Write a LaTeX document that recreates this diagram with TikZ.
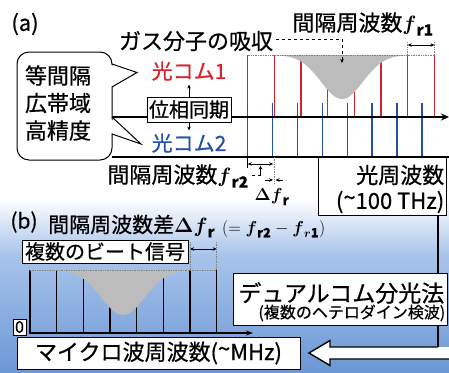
\documentclass[tikz,border=0pt]{standalone}
\usepackage{amsmath}
\usepackage{fontspec}
\setmainfont{Noto Sans CJK JP}[FakeBold=0.6]
\usetikzlibrary{arrows.meta}
\definecolor{combred}{RGB}{215,35,45}
\definecolor{combblue}{RGB}{35,80,170}
\definecolor{absgray}{RGB}{188,188,188}
\definecolor{bgmid}{RGB}{168,196,235}
\definecolor{bgbot}{RGB}{108,152,214}
\tikzset{
  txt/.style={inner sep=0pt, font=\fontsize{#1}{#1}\selectfont},
  boxed/.style={draw, fill=white, line width=0.9pt, inner sep=0pt},
  comba/.style={combred, line width=1.5pt},
  combb/.style={combblue, line width=1.5pt},
  beatline/.style={black, line width=1.3pt},
  axisline/.style={black, line width=1.8pt},
  guide/.style={gray, densely dotted, line width=0.7pt},
  dimarrow/.style={{Stealth[length=4pt,width=3.5pt]}-{Stealth[length=4pt,width=3.5pt]}, line width=0.8pt},
  tiparrow/.style={-{Stealth[length=4pt,width=3.5pt]}, line width=0.8pt}
}
\begin{document}
\begin{tikzpicture}[x=1pt,y=-1pt]
\useasboundingbox (0,0) rectangle (449,372);
\fill[white] (0,0) rectangle (449,372);
\shade[top color=white, bottom color=bgmid] (0,198) rectangle (449,255);
\shade[top color=bgmid, bottom color=bgbot] (0,254.5) rectangle (449,372);

% ---------- (a) ----------
\node[txt=22] (la) at (25,24) {(a)};
\foreach \i in {0,...,7}
  \draw[comba] ({247.7+26.67*\i},117) -- ({247.7+26.67*\i},55);
\fill[absgray] plot[domain=247.7:434.4, samples=120] (\x,{55+44*exp(-0.5*pow((\x-342)/21,2))}) -- cycle;
\draw[guide] (247.7,55) -- (434.4,55);
\foreach \i in {0,...,7}
  \draw[combb] ({247.7+24.9*\i},103) -- ({247.7+24.9*\i},157);
\draw[axisline] (112,157) -- (449,157);
\draw[axisline, -{Stealth[length=8pt,width=7pt]}] (112,117) -- (449,117);

\node[txt=22] (gas) at (196,41) {ガス分子の吸収};
\coordinate (dip) at (342,63);
\draw[dashed, tiparrow] ([xshift=3pt,yshift=2pt]gas.east) -| (dip);

\node[txt=22] (fr1) at (363,24) {間隔周波数$\boldsymbol{f}_{\mathbf{r1}}$};
\draw[guide] (407.7,42) -- (407.7,55);
\draw[guide] (434.4,42) -- (434.4,55);
\draw[dimarrow] (407.7,45) -- (434.4,45);

% bubble
\draw[fill=white, line width=1pt, rounded corners=12pt] (17,52) rectangle (112,160);
\fill[white] (111,65) -- (137,72.5) -- (111,86.5) -- cycle;
\draw[line width=1pt] (112,64) -- (137,72.5) -- (112,87);
\fill[white] (111,119) -- (141,144) -- (111,133) -- cycle;
\draw[line width=1pt] (112,117) -- (141,144) -- (112,134);
\node[align=center, inner sep=0pt, font=\fontsize{22}{27.5}\selectfont] (bub) at (58,103) {等間隔\\広帯域\\高精度};

\node[txt=21, text=combred] (c1) at (189,71) {光コム1};
\node[txt=21, text=combblue] (c2) at (189,143) {光コム2};
\node[boxed, txt=20, minimum width=84pt, minimum height=25pt] (sync) at (189,109.5) {位相同期};
\draw[tiparrow] (sync.north) -- ++(0,-12);
\draw[tiparrow] (sync.south) -- ++(0,8);

% f_r2 and delta f_r
\node[txt=22] (fr2) at (178,176) {間隔周波数$\boldsymbol{f}_{\mathbf{r2}}$};
\draw[black, line width=0.8pt] (247.7,157) -- (247.7,168);
\draw[guide] (274.4,157) -- (274.4,184);
\draw[dimarrow] (247.7,164) -- (273.3,164);
\coordinate (fr2tip) at (260.5,165.5);
\draw[dashed, line width=0.6pt] (252,175) -- (260.5,175);
\draw[tiparrow] (260.5,175) -- (fr2tip);
\coordinate (dgapl) at (273,180);
\coordinate (dgapr) at (275.5,180);
\draw[tiparrow] (265,180) -- (dgapl);
\draw[tiparrow] (283,180) -- (dgapr);
\node[txt=19] (dfr) at (272,197) {$\boldsymbol{\Delta f}_{\mathbf{r}}$};

% optical frequency box
\node[boxed, minimum width=128pt, minimum height=58pt] (optbox) at (382,186) {};
\node[txt=22, anchor=east] (opt1) at ([xshift=-2pt,yshift=11pt]optbox.east) {光周波数};
\node[txt=22, anchor=east] (opt2) at ([xshift=-2pt,yshift=-16pt]optbox.east) {(\raisebox{0.15em}{\textasciitilde}100 THz)};

% ---------- (b) ----------
\node[txt=21] (lb) at (24,222) {(b)};
\node[txt=21, anchor=west] (dtitle) at (48,226) {間隔周波数差$\boldsymbol{\Delta f}_{\mathbf{r}}$};
\node[txt=18, anchor=west] (dform) at (222,229) {$(=\boldsymbol{f}_{\mathbf{r2}}-\boldsymbol{f}_{\boldsymbol{r}\mathbf{1}})$};

\foreach \i in {0,...,7}
  \draw[beatline] ({30+26.67*\i},333) -- ({30+26.67*\i},270);
\fill[absgray] plot[domain=30:216.7, samples=120] (\x,{270+45*exp(-0.5*pow((\x-123)/22,2))}) -- cycle;
\draw[guide] (30,270) -- (216.7,270);
\draw[guide] (190,242) -- (190,270);
\draw[guide] (216.7,242) -- (216.7,270);
\draw[dimarrow] (190,249) -- (216.7,249);
\draw[axisline, line width=1.6pt, -{Stealth[length=7pt,width=5pt]}] (29,333) -- (253,333);

\node[boxed, txt=20, minimum width=166pt, minimum height=23pt] (beat) at (105,251.5) {複数のビート信号};
\node[boxed, txt=16, minimum width=13pt, minimum height=16pt] (zero) at (19.5,327) {0};

% feedback line and hollow arrow
\coordinate (corner) at (438,347);
\draw[line width=1.4pt] (optbox.south -| corner) -- (corner);
\fill[white] (449,359) -- (330,359) -- (330,365.5) -- (309,353) -- (330,340.5) -- (330,347) -- (449,347) -- cycle;
\draw[line width=1.4pt, line join=miter] (449,359) -- (330,359) -- (330,365.5) -- (309,353) -- (330,340.5) -- (330,347) -- (corner);

\node[boxed, minimum width=214pt, minimum height=52pt] (dual) at (340,299) {};
\node[txt=23, anchor=east] (dual1) at ([xshift=-3pt,yshift=6pt]dual.east) {デュアルコム分光法};
\node[txt=16, anchor=east] (dual2) at ([xshift=-2pt,yshift=-14pt]dual.east) {(複数のヘテロダイン検波)};

\node[boxed, txt=22, minimum width=283pt, minimum height=32pt] (micro) at (158.5,353) {マイクロ波周波数(\raisebox{0.15em}{\textasciitilde}MHz)};
\end{tikzpicture}
\end{document}
